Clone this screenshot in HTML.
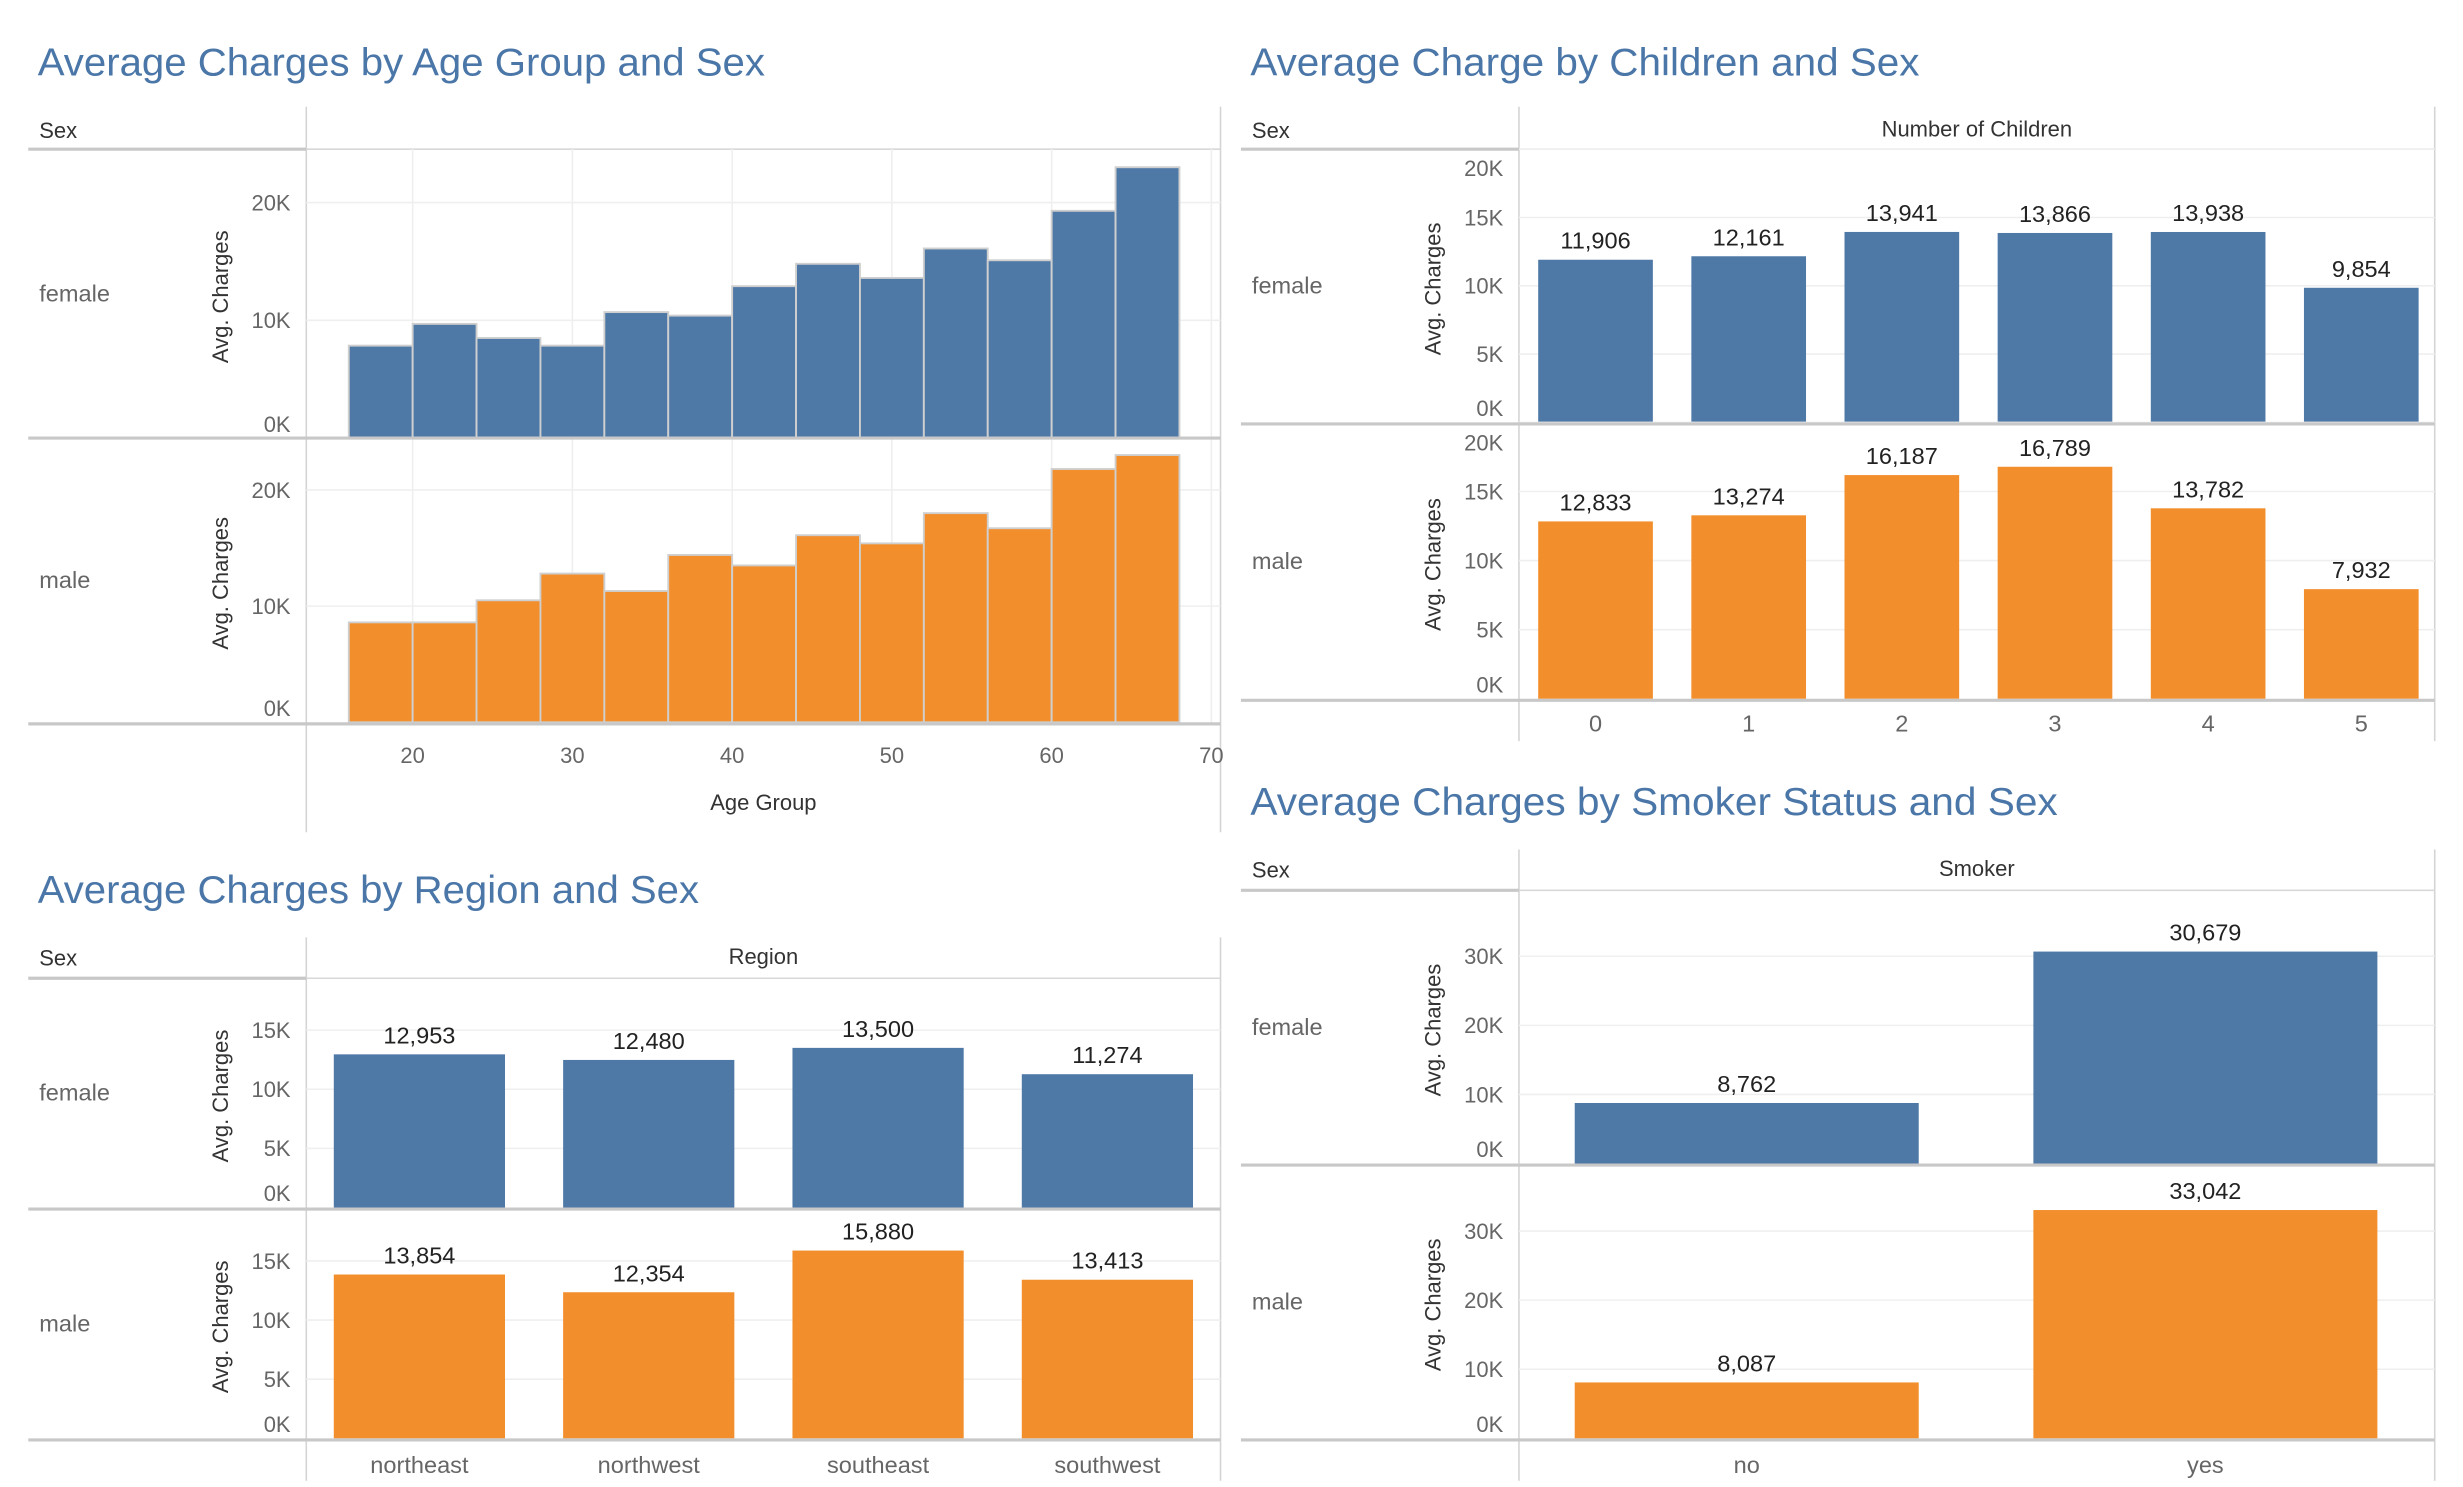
<!DOCTYPE html>
<html><head><meta charset="utf-8"><style>
html,body{margin:0;padding:0;background:#fff;width:2463px;height:1487px;overflow:hidden}
svg{display:block}
text{font-family:"Liberation Sans",sans-serif}
</style></head><body>
<svg id="c" width="2463" height="1487" viewBox="0 0 1568 947" preserveAspectRatio="none"></svg>
<script>
// ---- data ----
const ageBins = [16,20,24,28,32,36,40,44,48,52,56,60,64];
const ageFemale = [7850,9700,8500,7850,10700,10400,12900,14800,13600,16100,15100,19300,23000];
const ageMale = [8600,8600,10500,12800,11300,14400,13500,16100,15400,18000,16700,21800,23000];
const ageTicks = [20,30,40,50,60,70];
const ageYTicks = [0,10000,20000];

const childCats = ['0','1','2','3','4','5'];
const childFemale = [11906,12161,13941,13866,13938,9854];
const childMale = [12833,13274,16187,16789,13782,7932];
const childYTicks = [0,5000,10000,15000,20000];

const regionCats = ['northeast','northwest','southeast','southwest'];
const regionFemale = [12953,12480,13500,11274];
const regionMale = [13854,12354,15880,13413];
const regionYTicks = [0,5000,10000,15000];

const smokerCats = ['no','yes'];
const smokerFemale = [8762,30679];
const smokerMale = [8087,33042];
const smokerYTicks = [0,10000,20000,30000];

const BLUE='#4e79a7', ORANGE='#f28e2b';
const svg=document.getElementById('c');
const NS='http://www.w3.org/2000/svg';
function el(tag,attrs,parent){const e=document.createElementNS(NS,tag);for(const k in attrs)e.setAttribute(k,attrs[k]);(parent||svg).appendChild(e);return e;}
function txt(s,attrs,parent){const e=el('text',attrs,parent);e.textContent=s;return e;}
const fmt=v=>v.toLocaleString('en-US');
const kfmt=v=>(v/1000)+'K';

function frame(o){
  const g=el('g',{});
  
  
  const t=txt(o.title,{x:o.x0+6,y:o.titleY,'font-size':25,fill:'#4a76a8',textLength:o.titleW,lengthAdjust:'spacingAndGlyphs'},g);
  
  
  const s=txt('Sex',{x:o.x0+7,y:o.hdrY+8,'font-size':14,fill:'#333'},g);
  
  
  if(o.colHdr){const h=txt(o.colHdr,{x:(o.vx+o.x1)/2,y:o.hdrY+7,'font-size':14,fill:'#333','text-anchor':'middle'},g);
    
    }
  el('line',{x1:o.vx,y1:o.vTop,x2:o.vx,y2:o.vBot,stroke:'#d4d4d4','stroke-width':1},g);
  el('line',{x1:o.x1,y1:o.vTop,x2:o.x1,y2:o.vBot,stroke:'#d4d4d4','stroke-width':1},g);
  el('line',{x1:o.x0,y1:o.hdrLine,x2:o.vx,y2:o.hdrLine,stroke:'#c8c8c8','stroke-width':2},g);
  el('line',{x1:o.vx,y1:o.hdrLine,x2:o.x1,y2:o.hdrLine,stroke:'#d8d8d8','stroke-width':1},g);
  return g;
}
function pane(g,o,p){
  const y=v=>p.base-v/1000*p.ppk;
  p.ticks.forEach(t=>{
    if(t>0) el('line',{x1:o.vx,y1:y(t),x2:o.x1,y2:y(t),stroke:'#efefef','stroke-width':1},g);
    const ly=Math.max(Math.min(y(t)+5,p.base-4),p.top+17);
    const tl=txt(kfmt(t),{x:o.vx-10,y:ly,'font-size':14,fill:'#666','text-anchor':'end'},g);
    
    
  });
  const mid=(p.top+p.base)/2;
  const rl=txt(p.label,{x:o.x0+7,y:mid+5,'font-size':15,fill:'#666'},g);
  
  
  const at=txt('Avg. Charges',{x:0,y:0,'font-size':14,fill:'#333','text-anchor':'middle',transform:`translate(${o.vx-50},${mid+2}) rotate(-90)`},g);
  
  
  return y;
}
function divider(g,o,yy){el('line',{x1:o.x0,y1:yy,x2:o.x1,y2:yy,stroke:'#c8c8c8','stroke-width':2},g);}

// ---- Panel 1: Age histogram ----
(function(){
  const o={name:'age-group-chart',title:'Average Charges by Age Group and Sex',titleW:463,x0:18,x1:777,vx:195,vTop:68,vBot:530,titleY:48,hdrY:80,hdrLine:95};
  const g=frame(o);
  const xs=a=>262.7+(a-20)*10.17;
  ageTicks.forEach(t=>{el('line',{x1:xs(t),y1:95,x2:xs(t),y2:461,stroke:'#efefef'},g);
    const tl=txt(String(t),{x:xs(t),y:486,'font-size':14,fill:'#666','text-anchor':'middle'},g);
    
    });
  const panes=[{label:'female',base:279,ppk:7.5,top:95,vals:ageFemale,color:BLUE},{label:'male',base:460,ppk:7.4,top:279,vals:ageMale,color:ORANGE}];
  panes.forEach(p=>{
    p.ticks=ageYTicks;
    const y=pane(g,o,p);
    p.vals.forEach((v,i)=>{
      const r=el('rect',{x:xs(ageBins[i]),y:y(v),width:xs(ageBins[i]+4)-xs(ageBins[i]),height:p.base-y(v),fill:p.color,stroke:'#cfcfcf','stroke-width':1.2},g);
      
      
    });
  });
  divider(g,o,279);divider(g,o,461);
  const xt=txt('Age Group',{x:486,y:516,'font-size':14,fill:'#333','text-anchor':'middle'},g);
  
  
})();

// ---- generic categorical bar chart ----
function catChart(o,cats,panes,bandStart,band,bw,labelY){
  const g=frame(o);
  const cx=i=>bandStart+band*(i+0.5);
  panes.forEach(p=>{
    const y=pane(g,o,p);
    p.vals.forEach((v,i)=>{
      const r=el('rect',{x:cx(i)-bw/2,y:y(v),width:bw,height:p.base-y(v),fill:p.color},g);
      
      
      const l=txt(fmt(v),{x:cx(i),y:y(v)-7,'font-size':15,fill:'#222','text-anchor':'middle'},g);
      
      
    });
  });
  panes.forEach(p=>divider(g,o,p.base+1));
  cats.forEach((c,i)=>{const t=txt(c,{x:cx(i),y:labelY,'font-size':15,fill:'#666','text-anchor':'middle'},g);
    
    });
}

catChart({name:'children-chart',title:'Average Charge by Children and Sex',titleW:426,x0:790,x1:1550,vx:967,vTop:68,vBot:472,titleY:48,hdrY:80,hdrLine:95,colHdr:'Number of Children'},
  childCats,[{label:'female',base:269,ppk:8.7,top:95,vals:childFemale,color:BLUE,ticks:childYTicks},
             {label:'male',base:445,ppk:8.8,top:270,vals:childMale,color:ORANGE,ticks:childYTicks}],967,97.5,73,466);

catChart({name:'region-chart',title:'Average Charges by Region and Sex',titleW:421,x0:18,x1:777,vx:195,vTop:597,vBot:943,titleY:575,hdrY:607,hdrLine:623,colHdr:'Region'},
  regionCats,[{label:'female',base:769,ppk:7.53,top:623,vals:regionFemale,color:BLUE,ticks:regionYTicks},
              {label:'male',base:916,ppk:7.53,top:770,vals:regionMale,color:ORANGE,ticks:regionYTicks}],194,146,109,938);

catChart({name:'smoker-chart',title:'Average Charges by Smoker Status and Sex',titleW:514,x0:790,x1:1550,vx:967,vTop:541,vBot:943,titleY:519,hdrY:551,hdrLine:567,colHdr:'Smoker'},
  smokerCats,[{label:'female',base:741,ppk:4.4,top:567,vals:smokerFemale,color:BLUE,ticks:smokerYTicks},
              {label:'male',base:916,ppk:4.4,top:742,vals:smokerMale,color:ORANGE,ticks:smokerYTicks}],966,292,219,938);
</script>
</body></html>
